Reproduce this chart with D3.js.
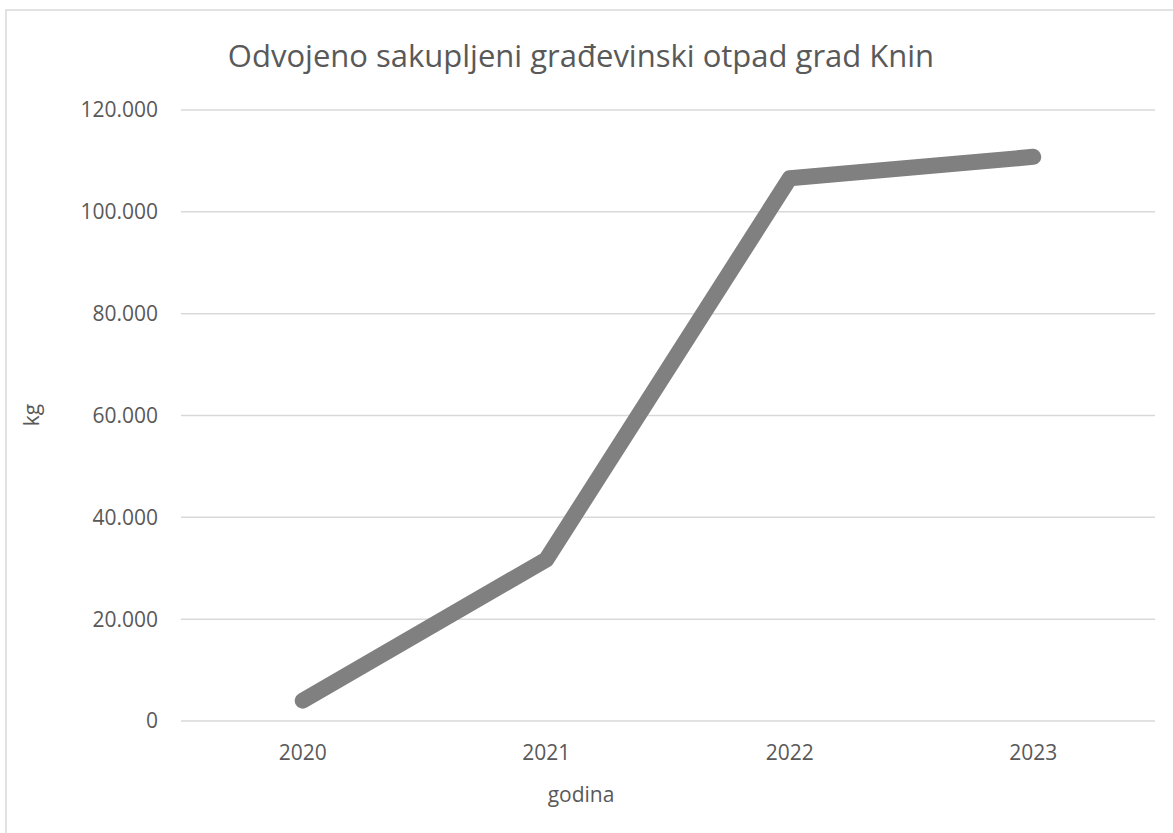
<!DOCTYPE html>
<html>
<head>
<meta charset="utf-8">
<script src="https://cdn.jsdelivr.net/npm/d3@7"></script>
<style>
  body { margin: 0; background: #fff; }
  text { font-family: "Open Sans", sans-serif; fill: #595959; }
</style>
</head>
<body>
<div id="chart"></div>
<script>
// values (kg per year)
var years = ["2020", "2021", "2022", "2023"];
var kg = [4000, 31700, 106600, 110800];
var yTicks = [0, 20000, 40000, 60000, 80000, 100000, 120000];

var W = 1173, H = 833;
var margin = {top: 110, right: 18, bottom: 112, left: 181},
    width = W - margin.left - margin.right,
    height = H - margin.top - margin.bottom;

var svg = d3.select("#chart").append("svg").attr("width", W).attr("height", H);

// chart border
svg.append("rect").attr("x", 6).attr("y", 10).attr("width", W + 20).attr("height", H + 20)
  .attr("fill", "none").attr("stroke", "#d9d9d9").attr("stroke-width", 1.5);

var g = svg.append("g").attr("transform", "translate(" + margin.left + "," + margin.top + ")");

var x = d3.scaleBand().domain(years).range([0, width]);
var y = d3.scaleLinear().domain([0, 120000]).range([height, 0]);

// horizontal grid
g.selectAll(".grid").data(yTicks).enter().append("line")
  .attr("x1", 0).attr("x2", width)
  .attr("y1", function(d) { return y(d); }).attr("y2", function(d) { return y(d); })
  .attr("stroke", "#d9d9d9").attr("stroke-width", 1.5);

// y tick labels
var fmt = function(d) { return d === 0 ? "0" : d3.format(",")(d).replace(/,/g, "."); };
g.selectAll(".ylab").data(yTicks).enter().append("text")
  .attr("x", -23).attr("y", function(d) { return y(d); })
  .attr("dy", "0.35em").attr("text-anchor", "end")
  .style("font-size", "21px")
  .text(fmt);

// x tick labels
g.selectAll(".xlab").data(years).enter().append("text")
  .attr("x", function(d) { return x(d) + x.bandwidth() / 2; })
  .attr("y", height + 39).attr("text-anchor", "middle")
  .style("font-size", "21px")
  .text(function(d) { return d; });

// the line
var line = d3.line()
  .x(function(d, i) { return x(years[i]) + x.bandwidth() / 2; })
  .y(function(d) { return y(d); });

g.append("path").datum(kg).attr("d", line)
  .attr("fill", "none").attr("stroke", "#808080").attr("stroke-width", 16)
  .attr("stroke-linecap", "round").attr("stroke-linejoin", "round");

// title
svg.append("text").attr("x", 581).attr("y", 67).attr("text-anchor", "middle")
  .style("font-size", "31px")
  .text("Odvojeno sakupljeni građevinski otpad grad Knin");

// axis titles
svg.append("text").attr("transform", "translate(39,415) rotate(-90)")
  .attr("text-anchor", "middle").style("font-size", "21px").text("kg");

svg.append("text").attr("x", 581).attr("y", 802).attr("text-anchor", "middle")
  .style("font-size", "21px").text("godina");
</script>
</body>
</html>
